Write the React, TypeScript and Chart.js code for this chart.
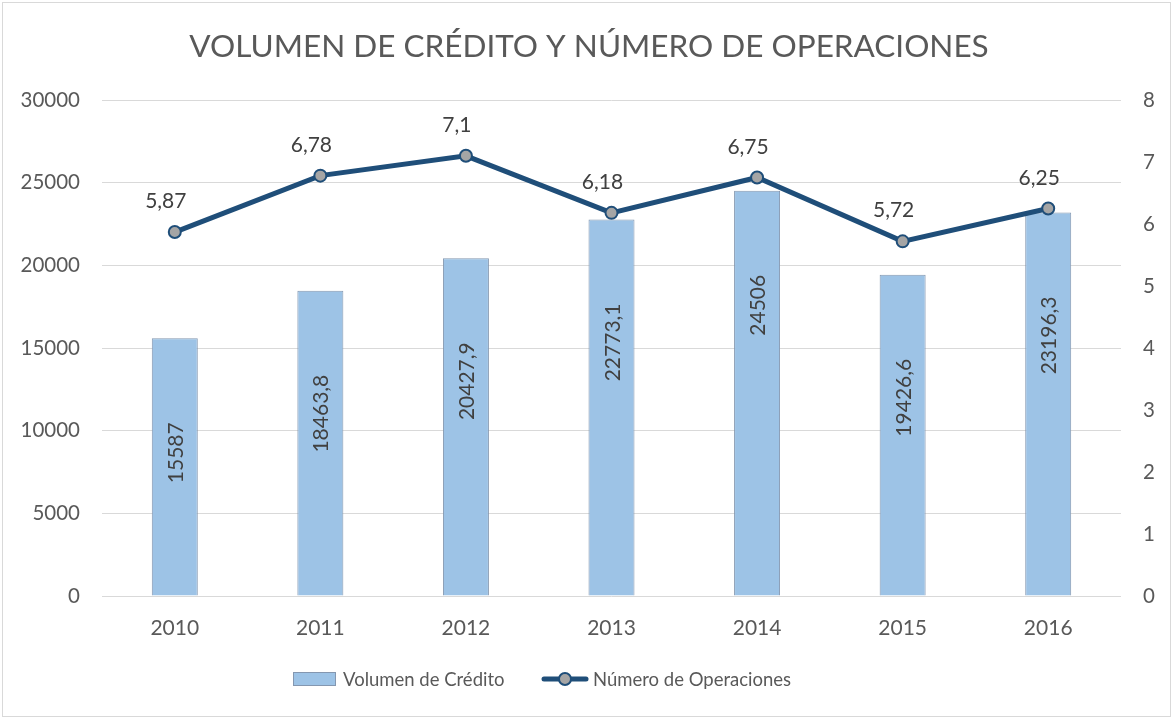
import { useEffect, useRef } from 'react';
import { Chart, registerables } from 'chart.js';

Chart.register(...registerables);

const TITLE = 'VOLUMEN DE CRÉDITO Y NÚMERO DE OPERACIONES';
const years = ['2010', '2011', '2012', '2013', '2014', '2015', '2016'];
const volumenCredito = [15587, 18463.8, 20427.9, 22773.1, 24506, 19426.6, 23196.3];
const numeroOperaciones = [5.87, 6.78, 7.1, 6.18, 6.75, 5.72, 6.25];
const seriesNames = ['Volumen de Crédito', 'Número de Operaciones'];
const leftAxis = { min: 0, max: 30000, step: 5000 };
const rightAxis = { min: 0, max: 8, step: 1 };

const FONT = 'Lato, "Open Sans", sans-serif';
const BAR_FILL = '#9dc3e6';
const BAR_BORDER = '#8497b0';
const LINE = '#1f4e79';
const MARKER = '#a5a5a5';
const TEXT = '#595959';
const LABEL = '#404040';
const GRID = '#d9d9d9';

const fmt = (v: number) => String(v).replace('.', ',');

const decor = {
  id: 'decor',
  beforeDraw(chart: any) {
    const { ctx, width, height } = chart;
    ctx.save();
    ctx.fillStyle = '#ffffff';
    ctx.fillRect(0, 0, width, height);
    ctx.strokeStyle = GRID;
    ctx.lineWidth = 1;
    ctx.strokeRect(2.5, 2.5, width - 5, height - 4);
    ctx.restore();
  },
  afterDatasetsDraw(chart: any) {
    const { ctx } = chart;
    ctx.save();
    ctx.font = `21px ${FONT}`;
    ctx.fillStyle = LABEL;
    const barMeta = chart.getDatasetMeta(0);
    barMeta.data.forEach((bar: any, i: number) => {
      ctx.save();
      ctx.translate(bar.x, bar.y + 84);
      ctx.rotate(-Math.PI / 2);
      ctx.textAlign = 'right';
      ctx.textBaseline = 'alphabetic';
      ctx.fillText(fmt(volumenCredito[i]), 0, 8);
      ctx.restore();
    });
    const lineMeta = chart.getDatasetMeta(1);
    lineMeta.data.forEach((pt: any, i: number) => {
      ctx.textAlign = 'center';
      ctx.textBaseline = 'alphabetic';
      ctx.fillText(fmt(numeroOperaciones[i]), pt.x - 9, pt.y - 24);
    });
    ctx.restore();
  },
  afterDraw(chart: any) {
    const { ctx } = chart;
    ctx.save();
    ctx.font = `31.5px ${FONT}`;
    ctx.fillStyle = TEXT;
    ctx.textAlign = 'center';
    ctx.textBaseline = 'alphabetic';
    ctx.fillText(TITLE, 589, 57);
    ctx.font = `18.5px ${FONT}`;
    ctx.textAlign = 'left';
    ctx.fillStyle = BAR_FILL;
    ctx.fillRect(293, 672, 43, 14);
    ctx.strokeStyle = BAR_BORDER;
    ctx.lineWidth = 1;
    ctx.strokeRect(293.5, 672.5, 42, 13);
    ctx.fillStyle = TEXT;
    ctx.fillText(seriesNames[0], 343, 686);
    ctx.strokeStyle = LINE;
    ctx.lineWidth = 5;
    ctx.lineCap = 'round';
    ctx.beginPath();
    ctx.moveTo(544, 679);
    ctx.lineTo(586, 679);
    ctx.stroke();
    ctx.beginPath();
    ctx.arc(565, 679, 6, 0, Math.PI * 2);
    ctx.fillStyle = MARKER;
    ctx.fill();
    ctx.lineWidth = 2;
    ctx.stroke();
    ctx.fillStyle = TEXT;
    ctx.fillText(seriesNames[1], 593, 686);
    ctx.restore();
  },
};

export default function App() {
  const ref = useRef<HTMLCanvasElement>(null);
  useEffect(() => {
    if (!ref.current) return;
    const chart = new Chart(ref.current, {
      type: 'bar',
      data: {
        labels: years,
        datasets: [
          {
            type: 'bar',
            label: seriesNames[0],
            data: volumenCredito,
            backgroundColor: BAR_FILL,
            borderColor: BAR_BORDER,
            borderWidth: 1,
            yAxisID: 'y',
            categoryPercentage: 1,
            barPercentage: 0.316,
            order: 1,
          },
          {
            type: 'line',
            label: seriesNames[1],
            data: numeroOperaciones,
            borderColor: LINE,
            borderWidth: 5,
            pointRadius: 6,
            pointBackgroundColor: MARKER,
            pointBorderColor: LINE,
            pointBorderWidth: 2,
            tension: 0,
            yAxisID: 'y1',
            order: 0,
          } as any,
        ],
      },
      options: {
        responsive: false,
        animation: false,
        layout: { padding: { top: 100, left: 0, right: 0, bottom: 0 } },
        plugins: {
          legend: { display: false },
          title: { display: false },
          tooltip: { enabled: false },
        },
        scales: {
          x: {
            grid: { display: false, drawTicks: false },
            border: { display: false },
            ticks: { font: { family: FONT, size: 21 }, color: TEXT, padding: 20 },
            afterFit: (s: any) => { s.height = 122; },
          },
          y: {
            position: 'left',
            min: leftAxis.min,
            max: leftAxis.max,
            ticks: {
              stepSize: leftAxis.step,
              font: { family: FONT, size: 20.5 },
              color: TEXT,
              padding: 22,
              callback: (v: any) => String(v),
            },
            grid: { color: GRID, lineWidth: 1, drawTicks: false },
            border: { display: false },
            afterFit: (s: any) => { s.width = 102; },
          },
          y1: {
            position: 'right',
            min: rightAxis.min,
            max: rightAxis.max,
            ticks: {
              stepSize: rightAxis.step,
              font: { family: FONT, size: 20.5 },
              color: TEXT,
              padding: 22,
              callback: (v: any) => String(v),
            },
            grid: { display: false, drawTicks: false },
            border: { display: false },
            afterFit: (s: any) => { s.width = 52; },
          },
        },
      },
      plugins: [decor],
    });
    return () => chart.destroy();
  }, []);
  return (
    <div style={{ position: 'absolute', left: 0, top: 0, width: 1173, height: 718 }}>
      <canvas ref={ref} width={1173} height={718} style={{ width: 1173, height: 718, display: 'block' }} />
    </div>
  );
}
